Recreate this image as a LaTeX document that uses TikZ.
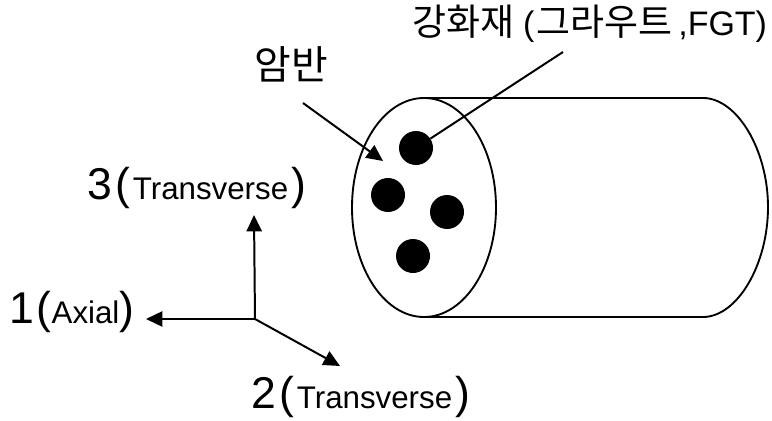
\documentclass[tikz,border=0pt]{standalone}
\usepackage{fontspec}
\setmainfont{Liberation Sans}
\newfontfamily\krfont{Noto Sans CJK KR}
\usetikzlibrary{shapes.geometric,arrows.meta,positioning}
\newcommand{\bigtxt}{\fontsize{38}{40}\selectfont}
\newcommand{\smalltxt}{\fontsize{26.7}{30}\selectfont}
\newcommand{\krtxt}{\krfont\fontsize{31.5}{33}\selectfont}
\newcommand{\midtxt}{\rmfamily\fontsize{29}{33}\selectfont}

\begin{document}
\begin{tikzpicture}[x=0.03cm,y=-0.03cm,
    lab/.style={inner sep=0pt, anchor=center},
    rebar/.style={circle, fill=black, draw=none, minimum size=1.02cm, inner sep=0pt},
    outline/.style={line width=1.6pt, black},
    arr/.style={-{Triangle[length=14pt,width=13pt]}, line width=1.7pt, black},
    lead/.style={line width=1.7pt, black}
]
    \useasboundingbox (0,0) rectangle (772,421);

    % cylinder
    \draw[outline] (424,98) -- (703,98) .. controls (737,98) and (768,150) .. (768,207)
        .. controls (768,265) and (737,317) .. (703,317) -- (424,317);
    \node[draw, ellipse, outline, fill=white, minimum width=4.32cm, minimum height=6.57cm, inner sep=0pt] (face) at (424,207.5) {};

    % reinforcement
    \node[rebar] (r1) at (416,148) {};
    \node[rebar] (r2) at (388,195) {};
    \node[rebar] (r3) at (447,212) {};
    \node[rebar] (r4) at (413,256) {};

    % labels
    \node[lab] (rock) at (291,64) {\krfont\fontsize{34}{36}\selectfont 암반};
    \node[lab] (reinf) at (590,24) {\krtxt 강화재\kern7pt{\midtxt (}\kern2pt그라우트\kern5pt{\midtxt ,FGT)}};
    \node[lab] (ax3) at (197,188) {\bigtxt 3\kern3pt(\kern2pt\smalltxt Transverse\kern3pt\bigtxt )};
    \node[lab] (ax1) at (72,312) {\bigtxt 1\kern2pt(\smalltxt Axial\bigtxt )};
    \node[lab] (ax2) at (361,397) {\bigtxt 2\kern3pt(\kern2pt\smalltxt Transverse\kern3pt\bigtxt )};

    % axes
    \coordinate (o) at (255,319);
    \coordinate (e3) at (254,215);
    \coordinate (e1) at (146,319);
    \coordinate (e2) at (340,366);
    \draw[arr] (o) -- (e3);
    \draw[arr] (o) -- (e1);
    \draw[arr] (o) -- (e2);

    % leaders
    \coordinate (rockstart) at (303,103);
    \coordinate (rockend) at (383,161);
    \coordinate (reinfstart) at (563,52);
    \draw[arr] (rockstart) -- (rockend);
    \draw[lead] (reinfstart) -- (r1);
\end{tikzpicture}
\end{document}
